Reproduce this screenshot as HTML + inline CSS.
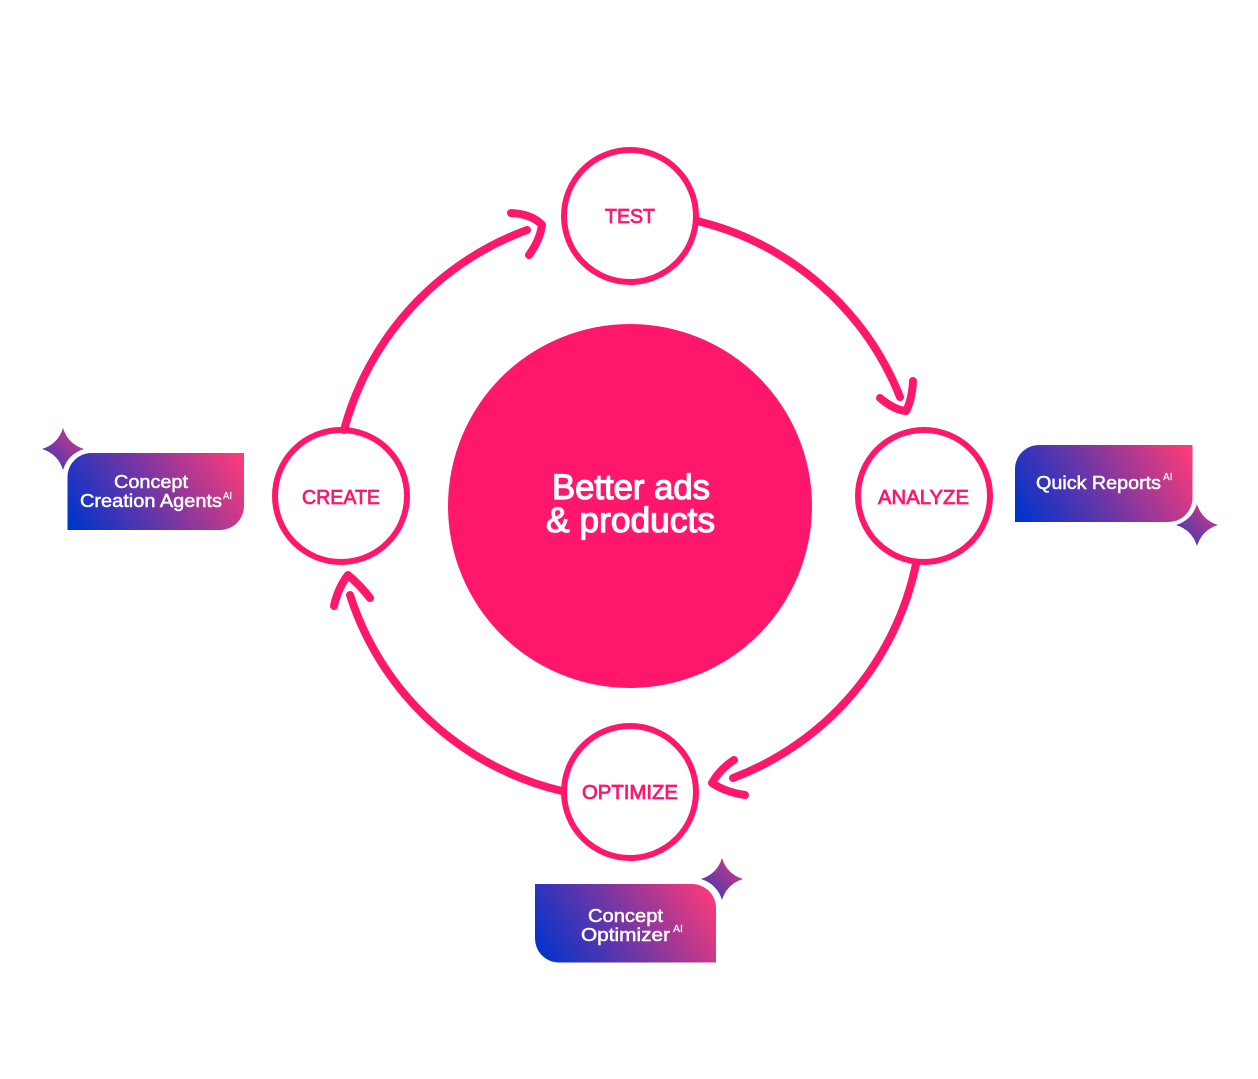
<!DOCTYPE html>
<html>
<head>
<meta charset="utf-8">
<style>
html,body{margin:0;padding:0;background:#fff;width:1258px;height:1079px;overflow:hidden}
svg{display:block}
text{font-family:"Liberation Sans",sans-serif}
.l{fill:#ff176c;stroke:#ff176c;stroke-width:.75px;font-size:20px}
.w{fill:#fff;stroke:#fff;stroke-width:.5px;font-size:18px}
.s{fill:#fff;stroke:#fff;stroke-width:.2px;font-size:10px}
.m{fill:#fff;stroke:#fff;stroke-width:1.2px;font-size:35px}
.a{fill:none;stroke:#ff176c;stroke-width:8px;stroke-linecap:round;stroke-linejoin:round}
</style>
</head>
<body>
<svg width="1258" height="1079" viewBox="0 0 1258 1079" xmlns="http://www.w3.org/2000/svg">
<defs>
<linearGradient id="g1" gradientUnits="userSpaceOnUse" x1="80" y1="540" x2="235" y2="445"><stop offset="0" stop-color="#0033cc"/><stop offset=".45" stop-color="#6d36a6"/><stop offset="1" stop-color="#ff3b78"/></linearGradient>
<linearGradient id="g2" gradientUnits="userSpaceOnUse" x1="1028" y1="532" x2="1183" y2="437"><stop offset="0" stop-color="#0033cc"/><stop offset=".45" stop-color="#6d36a6"/><stop offset="1" stop-color="#ff3b78"/></linearGradient>
<linearGradient id="g3" gradientUnits="userSpaceOnUse" x1="548" y1="972" x2="706" y2="876"><stop offset="0" stop-color="#0033cc"/><stop offset=".45" stop-color="#6d36a6"/><stop offset="1" stop-color="#ff3b78"/></linearGradient>
<linearGradient id="sp" x1="0" y1="1" x2="1" y2="0"><stop offset="0" stop-color="#2f38b8"/><stop offset="1" stop-color="#e03a80"/></linearGradient>
</defs>

<circle cx="630" cy="506" r="182" fill="#ff176c"/>

<circle cx="630" cy="216" r="66" fill="#fff" stroke="#ff176c" stroke-width="6"/>
<circle cx="924" cy="496" r="66" fill="#fff" stroke="#ff176c" stroke-width="6"/>
<circle cx="341" cy="496" r="66" fill="#fff" stroke="#ff176c" stroke-width="6"/>
<circle cx="630" cy="792" r="66" fill="#fff" stroke="#ff176c" stroke-width="6"/>

<path class="a" d="M697 221 A292 292 0 0 1 900 397"/>
<path class="a" d="M880 398 Q894 410 906 411 Q912 400 913 381"/>
<path class="a" d="M916 564 A292 292 0 0 1 733 778"/>
<path class="a" d="M734 760 Q720 769 712 783 Q725 792 745 795"/>
<path class="a" d="M562 791 A293 293 0 0 1 350 595"/>
<path class="a" d="M334 606 Q338 588 348 575 Q360 585 370 598"/>
<path class="a" d="M344 430 A295 295 0 0 1 527 230"/>
<path class="a" d="M511 213 Q532 214 542 225 Q540 240 529 255"/>

<text class="l" x="605" y="223" textLength="50" lengthAdjust="spacingAndGlyphs">TEST</text>
<text class="l" x="302" y="504" textLength="78" lengthAdjust="spacingAndGlyphs">CREATE</text>
<text class="l" x="878" y="504" textLength="91" lengthAdjust="spacingAndGlyphs">ANALYZE</text>
<text class="l" x="582" y="799" textLength="96" lengthAdjust="spacingAndGlyphs">OPTIMIZE</text>

<text class="m" x="552" y="499" textLength="158" lengthAdjust="spacingAndGlyphs">Better ads</text>
<text class="m" x="546" y="532" textLength="169" lengthAdjust="spacingAndGlyphs">&amp; products</text>

<path fill="url(#g1)" d="M91 453 H244 V506 A24 24 0 0 1 220 530 H67.500 V477 A24 24 0 0 1 91 453 Z"/>
<path fill="url(#g2)" d="M1039 445 H1192.500 V498 A24 24 0 0 1 1168 522 H1015 V469 A24 24 0 0 1 1039 445 Z"/>
<path fill="url(#g3)" d="M535 884 H692 A24 24 0 0 1 716 908 V962.500 H559 A24 24 0 0 1 535 938 Z"/>

<path fill="url(#sp)" d="M63 428 Q68 444 84 449 Q68 454 63 470 Q58 454 42 449 Q58 444 63 428 Z"/>
<path fill="url(#sp)" d="M1197 504 Q1202 520 1218 525 Q1202 530 1197 546 Q1192 530 1176 525 Q1192 520 1197 504 Z"/>
<path fill="url(#sp)" d="M722 858 Q727 874 743 879 Q727 884 722 900 Q717 884 701 879 Q717 874 722 858 Z"/>

<text class="w" x="114" y="488" textLength="74" lengthAdjust="spacingAndGlyphs">Concept</text>
<text class="w" x="80" y="507" textLength="142" lengthAdjust="spacingAndGlyphs">Creation Agents</text>
<text class="s" x="223" y="499" textLength="9" lengthAdjust="spacingAndGlyphs">AI</text>

<text class="w" x="1036" y="489" textLength="125" lengthAdjust="spacingAndGlyphs">Quick Reports</text>
<text class="s" x="1163" y="480" textLength="9.500" lengthAdjust="spacingAndGlyphs">AI</text>

<text class="w" x="588" y="922" textLength="75" lengthAdjust="spacingAndGlyphs">Concept</text>
<text class="w" x="581" y="941" textLength="89" lengthAdjust="spacingAndGlyphs">Optimizer</text>
<text class="s" x="673" y="932" textLength="10" lengthAdjust="spacingAndGlyphs">AI</text>
</svg>
</body>
</html>
